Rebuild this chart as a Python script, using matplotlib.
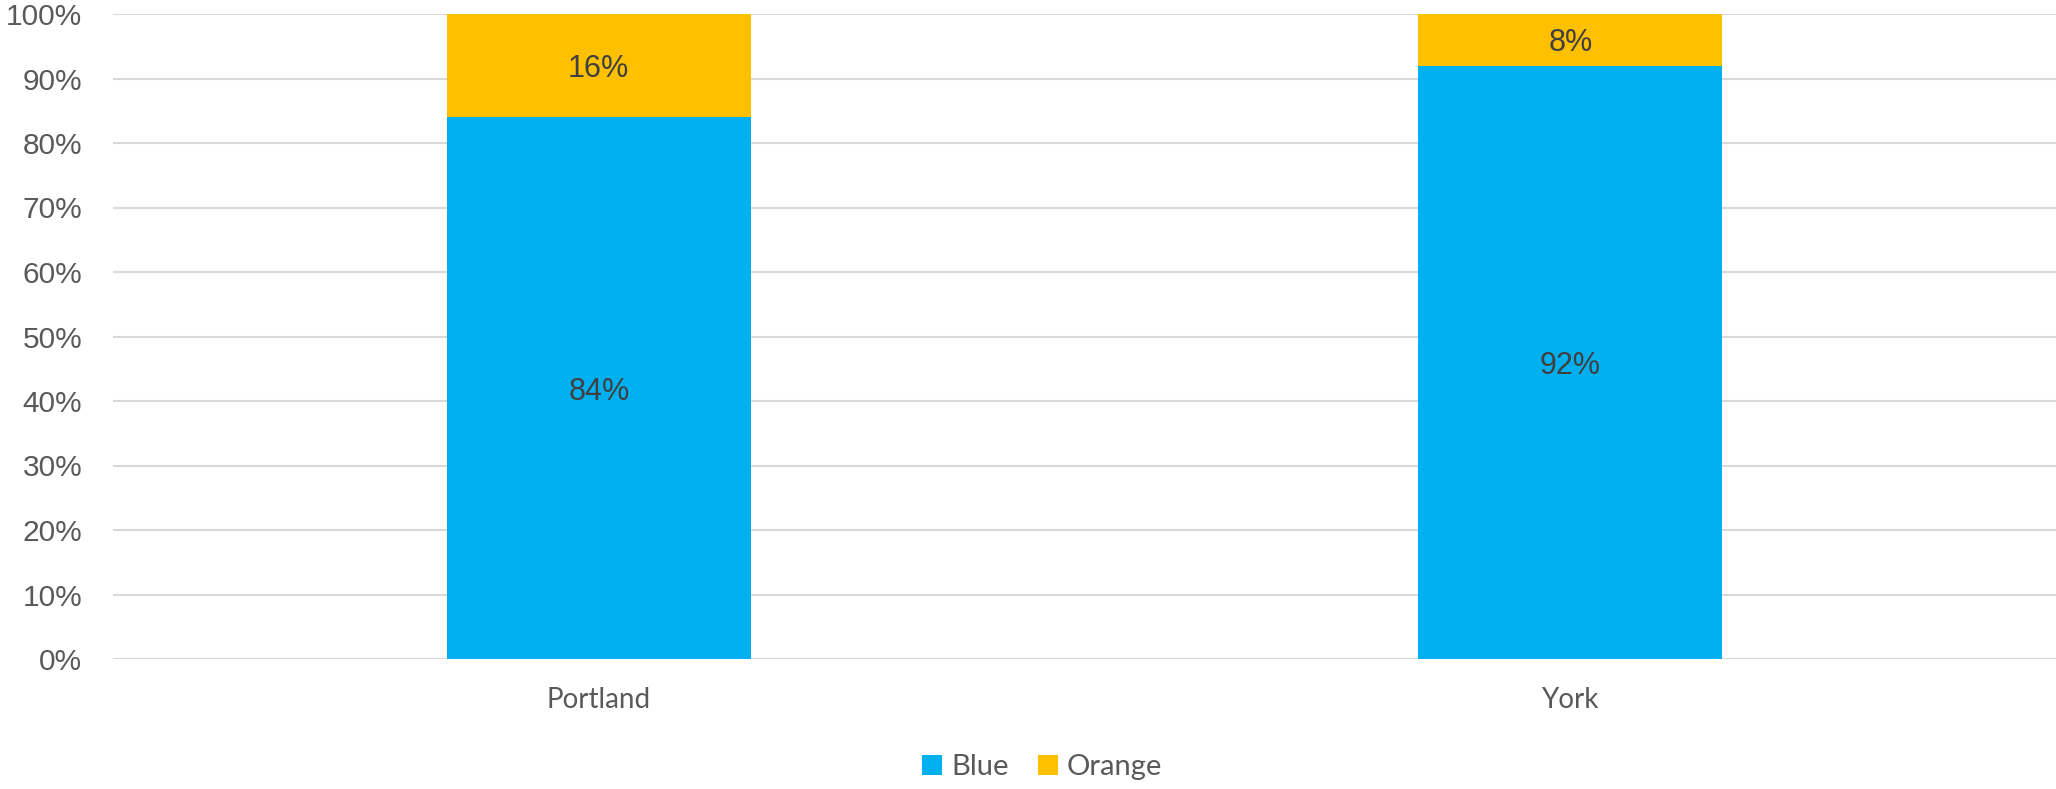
import matplotlib
matplotlib.use("Agg")
import matplotlib.pyplot as plt
from matplotlib.ticker import PercentFormatter

categories = ["Portland", "York"]
blue = [84, 92]
orange = [16, 8]
series_names = ["Blue", "Orange"]
colors = ["#00B0F0", "#FFC000"]

W, H, DPI = 2056, 789, 100
fig = plt.figure(figsize=(W / DPI, H / DPI), dpi=DPI)
ax = fig.add_axes([113 / W, 1 - 659 / H, (2056 - 113) / W, (659 - 14) / H])

x = list(range(len(categories)))
bw = 0.313
b1 = ax.bar(x, blue, bw, color=colors[0], label=series_names[0], zorder=3)
b2 = ax.bar(x, orange, bw, bottom=blue, color=colors[1], label=series_names[1], zorder=3)

for bars, vals, bots in [(b1, blue, [0] * len(blue)), (b2, orange, blue)]:
    for rect, v, b in zip(bars, vals, bots):
        ax.text(rect.get_x() + rect.get_width() / 2, b + v / 2, f"{v}%",
                ha="center", va="center_baseline", fontsize=22, color="#404040",
                family="Liberation Sans", zorder=4)

ax.set_xlim(-0.5, 1.5)
ax.set_ylim(0, 100)
ax.set_yticks(range(0, 101, 10))
ax.yaxis.set_major_formatter(PercentFormatter(decimals=0))
ax.grid(axis="y", color="#D9D9D9", linewidth=1.5, zorder=0)
for s in ax.spines.values():
    s.set_visible(False)
ax.tick_params(axis="both", length=0)
ax.tick_params(axis="y", pad=22, labelsize=21.5, labelcolor="#595959")
ax.tick_params(axis="x", pad=20, labelsize=20, labelcolor="#595959")
for lab in ax.get_yticklabels():
    lab.set_family("Liberation Sans")
    lab.set_verticalalignment("center_baseline")
ax.set_xticks(x)
ax.set_xticklabels(categories, family="Lato")

leg = fig.legend(loc="center", bbox_to_anchor=(1042 / W, 1 - 767 / H), ncol=2,
                 frameon=False, prop={"family": "Lato", "size": 21},
                 handlelength=0.7, handleheight=0.7, handletextpad=0.3,
                 columnspacing=1.0)
for t in leg.get_texts():
    t.set_color("#595959")

fig.savefig("out.png", dpi=DPI)
